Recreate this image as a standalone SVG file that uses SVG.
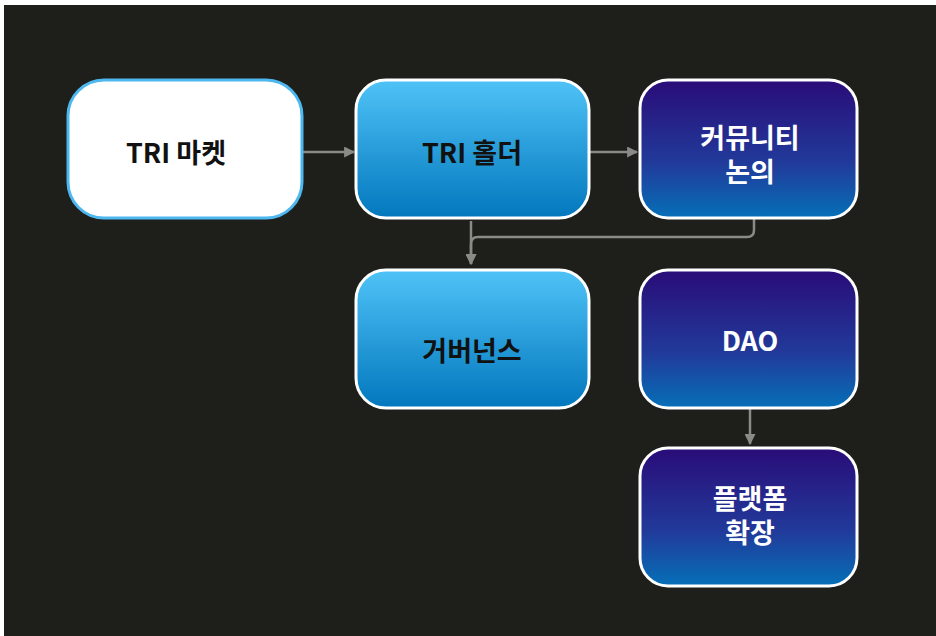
<svg xmlns="http://www.w3.org/2000/svg" width="936" height="636" viewBox="0 0 936 636">
<defs>
<linearGradient id="gBlue" x1="0" y1="0" x2="0" y2="1">
<stop offset="0" stop-color="#4fc3f7"/>
<stop offset="1" stop-color="#0277bd"/>
</linearGradient>
<linearGradient id="gPurple" x1="0" y1="0" x2="0" y2="1">
<stop offset="0" stop-color="#2a0c78"/>
<stop offset="0.6" stop-color="#213a9a"/>
<stop offset="1" stop-color="#0670b8"/>
</linearGradient>
<marker id="arr" viewBox="0 0 10 10" refX="9" refY="5" markerWidth="12" markerHeight="11" markerUnits="userSpaceOnUse" orient="auto">
<path d="M0,0 L10,5 L0,10 z" fill="#8a8a86"/>
</marker>
<style>
.lbl{font-family:"Noto Sans CJK KR","Noto Sans",sans-serif;font-weight:bold;font-size:27px;text-anchor:middle;dominant-baseline:central}
.dark{fill:#111111}
.light{fill:#ffffff}
.edge{fill:none;stroke:#8a8a86;stroke-width:2.5}
</style>
</defs>
<rect x="0" y="0" width="936" height="636" fill="#ffffff"/>
<rect x="4" y="5" width="932" height="631" fill="#1e1e1a"/>
<g id="connectors">
<path class="edge" d="M303,152 H354" marker-end="url(#arr)"/>
<path class="edge" d="M590,152 H637" marker-end="url(#arr)"/>
<path class="edge" d="M471,221 V264" marker-end="url(#arr)"/>
<path class="edge" d="M754,219 V230 Q754,237 747,237 H478 Q471,237 471,244 V264" marker-end="url(#arr)"/>
<path class="edge" d="M750,409 V444" marker-end="url(#arr)"/>
</g>
<g id="node-market">
<rect x="68" y="80" width="234" height="138" rx="36" fill="#ffffff" stroke="#4db8f0" stroke-width="3"/>
<text class="lbl dark" x="176" y="151">TRI 마켓</text>
</g>
<g id="node-holder">
<rect x="356" y="80" width="233" height="138" rx="30" fill="url(#gBlue)" stroke="#ffffff" stroke-width="3"/>
<text class="lbl dark" x="472" y="151">TRI 홀더</text>
</g>
<g id="node-community">
<rect x="640" y="80" width="217" height="138" rx="28" fill="url(#gPurple)" stroke="#ffffff" stroke-width="3"/>
<text class="lbl light" x="750" y="136">커뮤니티</text>
<text class="lbl light" x="750" y="170">논의</text>
</g>
<g id="node-governance">
<rect x="356" y="270" width="233" height="138" rx="30" fill="url(#gBlue)" stroke="#ffffff" stroke-width="3"/>
<text class="lbl dark" x="472" y="349">거버넌스</text>
</g>
<g id="node-dao">
<rect x="640" y="270" width="217" height="138" rx="28" fill="url(#gPurple)" stroke="#ffffff" stroke-width="3"/>
<text class="lbl light" x="750" y="339">DAO</text>
</g>
<g id="node-platform">
<rect x="640" y="448" width="217" height="138" rx="28" fill="url(#gPurple)" stroke="#ffffff" stroke-width="3"/>
<text class="lbl light" x="750" y="497">플랫폼</text>
<text class="lbl light" x="750" y="531">확장</text>
</g>
</svg>
